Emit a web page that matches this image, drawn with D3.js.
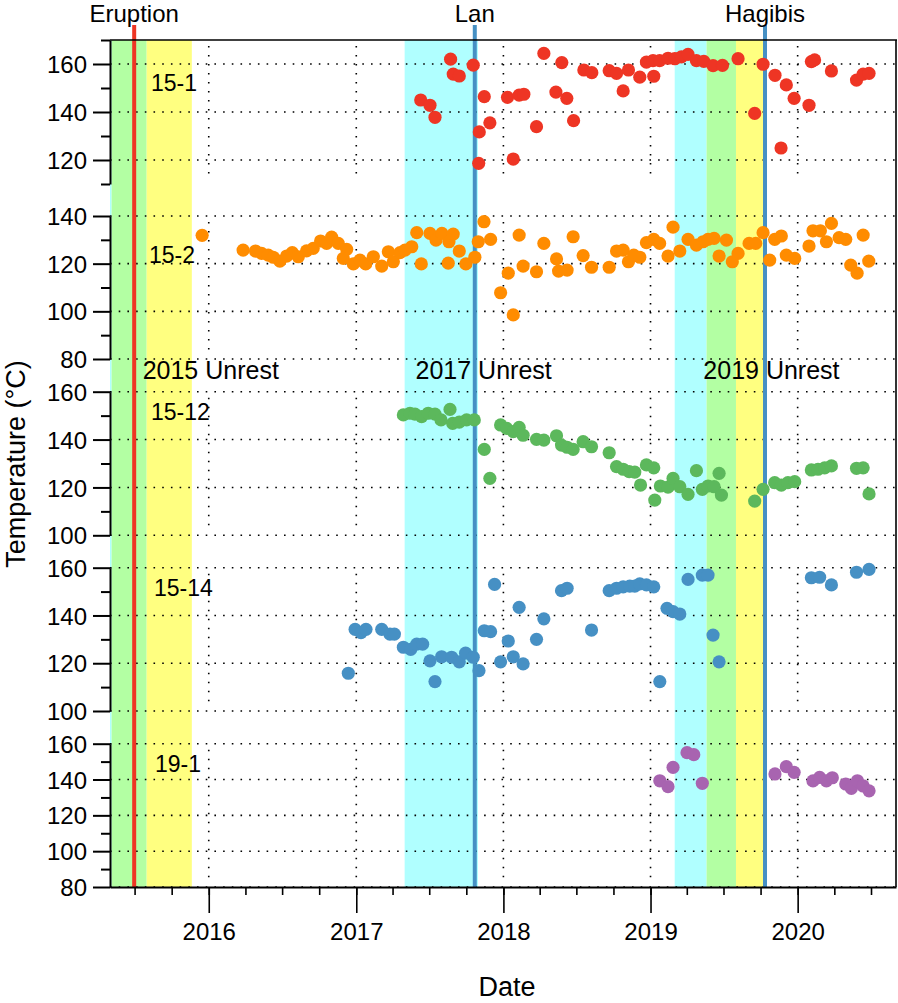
<!DOCTYPE html>
<html><head><meta charset="utf-8">
<script src="https://cdn.jsdelivr.net/npm/d3@7"></script>
<style>
body{margin:0;background:#fff}
svg{display:block}
text{font-family:"Liberation Sans",Arial,Helvetica,sans-serif;fill:#000}
</style>
</head><body>
<svg id="chart" width="898" height="1003"></svg>
<script>
// ---------- DATA (decimal year, temperature °C) ----------
const s15_1 = [[2017.438,145],[2017.501,142.8],[2017.535,137.8],[2017.641,162],[2017.659,155.8],[2017.700,155],[2017.795,159.5],[2017.832,118.6],[2017.836,131.7],[2017.870,146.4],[2017.908,135.5],
[2018.028,146.1],[2018.067,120.4],[2018.107,147],[2018.139,147.4],[2018.225,133.9],[2018.275,164.4],[2018.357,148.3],[2018.397,160.6],[2018.431,145.7],[2018.477,136.4],[2018.547,157.5],[2018.601,156.4],[2018.719,157.2],[2018.769,156.1],[2018.814,148.8],[2018.850,157.5],[2018.927,154.5],[2018.972,160.8],[2019.022,154.9],[2019.017,161.4],[2019.062,161.4],[2019.119,162.4],[2019.165,162.2],[2019.210,163],[2019.255,164],[2019.312,161.4],[2019.362,161.1],[2019.425,159.3],[2019.489,159.4],[2019.595,162.2],[2019.708,139.4],[2019.765,159.9],[2019.846,155.3],[2019.887,125],[2019.923,151.3],[2019.976,145.7],[2020.077,142.8],[2020.093,161],[2020.115,161.7],[2020.229,157.1],[2020.399,153.3],[2020.444,155.8],[2020.484,156.1]];

const s15_2 = [[2015.955,131.9],[2016.233,125.7],[2016.317,125.3],[2016.358,124.3],[2016.403,123.6],[2016.437,122.7],[2016.482,121.1],[2016.528,123.2],[2016.566,124.6],[2016.607,122.9],[2016.663,125.4],[2016.708,126.4],[2016.758,129.5],[2016.799,128.5],[2016.833,131.1],[2016.878,128.5],[2016.935,126],[2016.912,122.2],[2016.980,119.9],[2017.025,121.5],[2017.064,119.9],[2017.116,122.9],[2017.173,119],[2017.218,125],[2017.252,120.8],[2017.297,124.6],[2017.331,125.7],[2017.377,127.1],[2017.411,133],[2017.442,119.9],[2017.501,132.7],[2017.542,129.9],[2017.582,132.7],[2017.625,120.2],[2017.630,129.2],[2017.659,132.4],[2017.700,125.3],[2017.745,119.9],[2017.806,122.7],[2017.829,129.2],[2017.868,137.6],[2017.913,130.2],[2017.981,107.8],
[2018.033,116],[2018.067,98.5],[2018.107,132],[2018.134,119],[2018.225,116.6],[2018.275,128.5],[2018.361,122],[2018.375,116.9],[2018.433,117.3],[2018.474,131.3],[2018.542,123.4],[2018.599,118.5],[2018.719,118.5],[2018.769,125.3],[2018.814,125.7],[2018.850,120.8],[2018.886,123.6],[2018.927,122.7],[2018.972,128.8],[2019.022,130.2],[2019.062,128.5],[2019.119,123.2],[2019.153,135.3],[2019.199,125.3],[2019.255,130.2],[2019.312,127.8],[2019.357,129.2],[2019.391,130.2],[2019.432,130.6],[2019.466,123.2],[2019.516,129.9],[2019.556,120.8],[2019.595,124.3],[2019.670,128.5],[2019.715,128.5],[2019.765,133],[2019.810,121.5],[2019.844,130.2],[2019.889,131.6],[2019.923,123.6],[2019.980,122.2],[2020.077,127.4],[2020.104,133.8],[2020.154,133.8],[2020.195,129.2],[2020.229,136.9],[2020.281,130.9],[2020.326,130.2],[2020.360,119.4],[2020.403,116],[2020.444,132],[2020.482,121.1]];

const s15_12 = [[2017.320,150.3],[2017.365,151],[2017.399,150.6],[2017.444,149.6],[2017.489,151],[2017.535,150.6],[2017.576,148.2],[2017.637,152.6],[2017.655,146.8],[2017.700,147.3],[2017.750,148.2],[2017.802,148.2],[2017.870,135.9],[2017.908,123.8],[2017.981,146.1],
[2018.022,144.7],[2018.067,143.3],[2018.107,145.1],[2018.134,141.8],[2018.225,140.1],[2018.275,139.8],[2018.361,141.6],[2018.395,137.7],[2018.433,136.8],[2018.474,135.9],[2018.542,139.1],[2018.599,137],[2018.719,134.5],[2018.769,128.7],[2018.814,127.6],[2018.855,126.6],[2018.893,126.4],[2018.932,121],[2018.972,129.4],[2019.022,128.2],[2019.029,114.7],[2019.067,120.6],[2019.119,120.1],[2019.153,123.8],[2019.199,120.3],[2019.255,117.1],[2019.312,127],[2019.352,119.2],[2019.391,120.6],[2019.432,120.3],[2019.466,125.9],[2019.482,116.8],[2019.708,114.3],[2019.765,119.2],[2019.844,122],[2019.889,121],[2019.934,122],[2019.980,122.4],[2020.093,127.3],[2020.138,127.6],[2020.183,128.2],[2020.229,129],[2020.399,128],[2020.444,128.2],[2020.484,117.3]];

const s15_14 = [[2016.946,115.8],[2016.992,134.2],[2017.032,132.8],[2017.066,134.2],[2017.173,134.2],[2017.229,132.2],[2017.259,132.2],[2017.320,126.7],[2017.370,125.8],[2017.411,128],[2017.451,128],[2017.501,121],[2017.535,112.3],[2017.580,122.7],[2017.648,122.5],[2017.700,120.6],[2017.743,124.2],[2017.795,122.5],[2017.834,116.9],[2017.870,133.6],[2017.913,133.2],[2017.940,153],[2017.981,120.6],
[2018.033,129.3],[2018.067,122.7],[2018.107,143.4],[2018.134,119.7],[2018.225,130],[2018.275,138.6],[2018.395,150.4],[2018.433,151.4],[2018.599,133.9],[2018.719,150.4],[2018.769,151.4],[2018.814,152],[2018.859,152.3],[2018.893,152.3],[2018.927,153.2],[2018.972,152.8],[2019.022,152],[2019.063,112.3],[2019.112,143],[2019.153,141.6],[2019.199,140.6],[2019.255,155.1],[2019.352,156.9],[2019.391,156.9],[2019.425,131.8],[2019.466,120.6],[2020.093,155.8],[2020.149,156],[2020.229,152.8],[2020.399,158.1],[2020.484,159.3]];

const s19_1 = [[2019.063,139.3],[2019.119,136],[2019.153,146.8],[2019.248,155],[2019.294,153.9],[2019.352,137.9],[2019.846,143.1],[2019.923,147.2],[2019.976,144],[2020.104,139.2],[2020.149,141.2],[2020.195,139.3],[2020.235,141],[2020.326,137.5],[2020.364,135.1],[2020.405,139.3],[2020.444,136.4],[2020.484,133.7]];

const seriesNames = ["15-1","15-2","15-12","15-14","19-1"];
const yearTicks = ["2016","2017","2018","2019","2020"];
const events = [["Eruption","2015-06-30"],["Lan","2017-10-22"],["Hagibis","2019-10-12"]];
const bands = [["cyan","2015-04-20","2015-05-05"],["green","2015-05-05","2015-07-31"],["yellow","2015-07-31","2015-11-20"],
               ["cyan","2017-05-01","2017-10-30"],
               ["cyan","2019-03-02","2019-05-20"],["green","2019-05-20","2019-08-01"],["yellow","2019-08-01","2019-10-07"]];
const unrestLabels = [["2015 Unrest","2015-07-21"],["2017 Unrest","2017-05-28"],["2019 Unrest","2019-05-12"]];

// ---------- LAYOUT / STYLE ----------
const L = 110, R = 896, TOP = 40, BOT = 887;
const bandColor = {cyan:"#b0ffff", green:"#b3ffa3", yellow:"#ffff80"};
const panels = [
  {data:s15_1,  color:"#ee3524", domain:[110,170], top:40,    bottom:184,   lx:151, ly:90.7},
  {data:s15_2,  color:"#ff8c00", domain:[80,140],  top:216,   bottom:359,   lx:149, ly:263},
  {data:s15_12, color:"#5cb85c", domain:[100,160], top:391.7, bottom:535.3, lx:151, ly:420},
  {data:s15_14, color:"#4690c4", domain:[100,160], top:567.7, bottom:711,   lx:154, ly:596},
  {data:s19_1,  color:"#a864b0", domain:[80,160],  top:743.7, bottom:887,   lx:155, ly:771.7}
];

function dy(t){const y=Math.floor(t);const s=new Date(y,0,1),e=new Date(y+1,0,1);return new Date(+s+(t-y)*(e-s));}
const pd = d3.timeParse("%Y-%m-%d");

const svg = d3.select("#chart");
const x = d3.scaleTime().domain([new Date(2015,4,1), new Date(2020,8,1)]).range([L,R]);

svg.append("defs").append("clipPath").attr("id","plotclip")
  .append("rect").attr("x",L).attr("y",TOP).attr("width",R-L).attr("height",BOT-TOP);

// bands
svg.append("g").attr("clip-path","url(#plotclip)").selectAll("rect").data(bands).join("rect")
  .attr("x",d=>x(pd(d[1]))).attr("width",d=>x(pd(d[2]))-x(pd(d[1])))
  .attr("y",TOP).attr("height",BOT-TOP).attr("fill",d=>bandColor[d[0]]);

const yearDates = yearTicks.map(s=>new Date(+s,0,1));

panels.forEach((p,i)=>{
  const y = d3.scaleLinear().domain(p.domain).range([p.bottom,p.top]);
  p.y = y;
  const majors = d3.range(Math.ceil(p.domain[0]/20)*20, p.domain[1]+0.1, 20);
  const minors = d3.range(p.domain[0], p.domain[1]+0.1, 10).filter(v=>majors.indexOf(v)<0);
  const g = svg.append("g");
  g.selectAll("line.hg").data(majors).join("line").attr("class","hg")
    .attr("x1",L).attr("x2",R).attr("y1",d=>y(d)).attr("y2",d=>y(d))
    .attr("stroke","#000").attr("stroke-width",1.6).attr("stroke-dasharray","1.6 7.1");
  g.selectAll("line.vg").data(yearDates).join("line").attr("class","vg")
    .attr("x1",d=>x(d)).attr("x2",d=>x(d)).attr("y1",p.top+6).attr("y2",p.bottom-6)
    .attr("stroke","#000").attr("stroke-width",1.6).attr("stroke-dasharray","1.6 7.4");
  const ax = svg.append("g").attr("transform",`translate(${L},0)`)
    .call(d3.axisLeft(y).tickValues(majors).tickSize(17).tickSizeOuter(0).tickPadding(6).tickFormat(d3.format("d")));
  ax.attr("font-family",null).attr("font-size",null);
  ax.select(".domain").attr("stroke-width",2);
  ax.selectAll(".tick line").attr("stroke-width",2);
  ax.selectAll(".tick text").style("font-size","24px").attr("dy","0.36em");
  const axm = svg.append("g").attr("transform",`translate(${L},0)`)
    .call(d3.axisLeft(y).tickValues(minors).tickSize(9).tickSizeOuter(0).tickFormat(""));
  axm.select(".domain").remove();
  axm.selectAll(".tick line").attr("stroke-width",2);
});

// event lines
svg.append("g").selectAll("line").data(events).join("line")
  .attr("x1",d=>x(pd(d[1]))).attr("x2",d=>x(pd(d[1]))).attr("y1",25).attr("y2",BOT)
  .attr("stroke",(d,i)=>i===0?"#ee3524":"#4690c4").attr("stroke-width",4);

// markers
panels.forEach(p=>{
  svg.append("g").selectAll("circle").data(p.data).join("circle")
    .attr("cx",d=>x(dy(d[0]))).attr("cy",d=>p.y(d[1])).attr("r",6.6).attr("fill",p.color);
});

// frame
svg.append("line").attr("x1",L).attr("x2",R+1).attr("y1",TOP).attr("y2",TOP).attr("stroke","#000").attr("stroke-width",1.6);
svg.append("line").attr("x1",R).attr("x2",R).attr("y1",TOP).attr("y2",BOT).attr("stroke","#000").attr("stroke-width",1.6);

// x axis
const xa = svg.append("g").attr("transform",`translate(0,${BOT})`)
  .call(d3.axisBottom(x).tickValues(yearDates).tickSize(26).tickSizeOuter(0).tickPadding(10).tickFormat(d3.timeFormat("%Y")));
xa.attr("font-family",null).attr("font-size",null);
xa.select(".domain").attr("stroke-width",2);
xa.selectAll(".tick line").attr("stroke-width",1.6);
xa.selectAll(".tick text").style("font-size","24px");
const xm = svg.append("g").attr("transform",`translate(0,${BOT})`)
  .call(d3.axisBottom(x).ticks(d3.timeMonth.every(3)).tickSize(8).tickSizeOuter(0).tickFormat(""));
xm.select(".domain").remove();
xm.selectAll(".tick line").attr("stroke-width",1.6);

// labels
svg.append("g").selectAll("text").data(events).join("text")
  .attr("x",d=>x(pd(d[1]))).attr("y",22).attr("text-anchor","middle").style("font-size","24px").text(d=>d[0]);
svg.append("g").selectAll("text").data(unrestLabels).join("text")
  .attr("x",d=>x(pd(d[1]))).attr("y",379).style("font-size","25px").text(d=>d[0]);
svg.append("g").selectAll("text").data(panels).join("text")
  .attr("x",d=>d.lx).attr("y",d=>d.ly).style("font-size","23px").text((d,i)=>seriesNames[i]);

svg.append("text").attr("x",507).attr("y",996).attr("text-anchor","middle").style("font-size","27px").text("Date");
svg.append("text").attr("transform","translate(25,464) rotate(-90)").attr("text-anchor","middle").style("font-size","27px").text("Temperature (°C)");
</script>
</body></html>
